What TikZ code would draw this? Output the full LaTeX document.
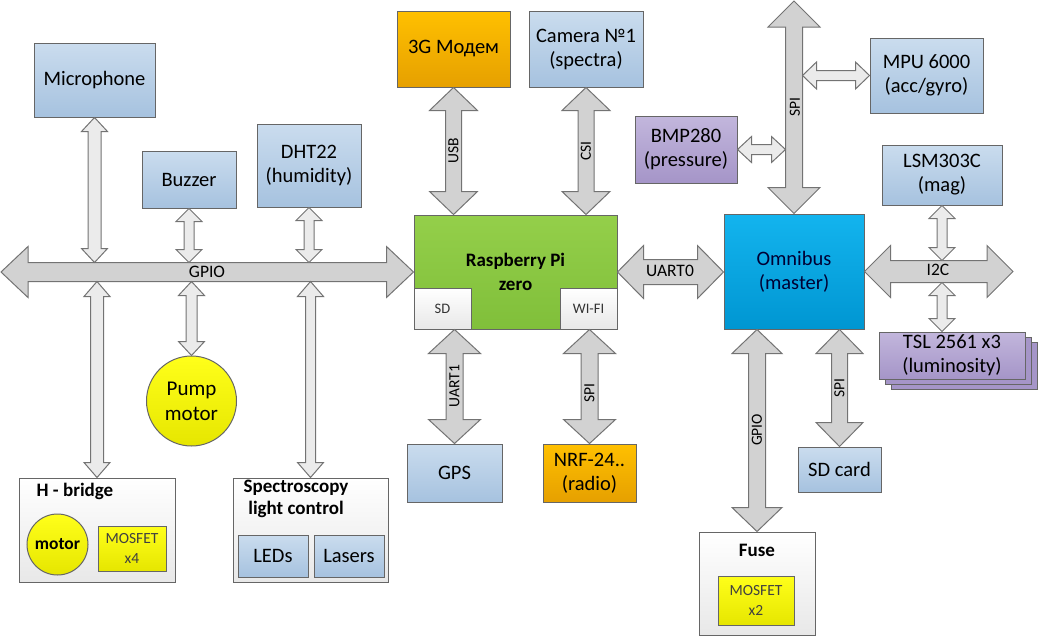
\documentclass[tikz,border=0pt]{standalone}
\usepackage{fontspec}
\setmainfont{Carlito}
\usetikzlibrary{calc,shadows}
\definecolor{blueT}{HTML}{CADCEE}
\definecolor{blueB}{HTML}{A6C2DF}
\definecolor{orangeT}{HTML}{FFC000}
\definecolor{orangeB}{HTML}{E6A000}
\definecolor{purpleT}{HTML}{C2B6DC}
\definecolor{purpleB}{HTML}{A595C8}
\definecolor{greenT}{HTML}{94CF4A}
\definecolor{greenB}{HTML}{80BF3A}
\definecolor{omniT}{HTML}{13B4EE}
\definecolor{omniB}{HTML}{0096D2}
\definecolor{yellowT}{HTML}{FFFF1A}
\definecolor{yellowB}{HTML}{E6E600}
\definecolor{greyB}{HTML}{E8E8E8}
\definecolor{busfill}{HTML}{D2D2D2}
\definecolor{thinfill}{HTML}{EBEBEB}
\newcommand{\vbus}[6][bigbus]{%
  \draw[#1] let \p1=(#2), \p2=(#3) in
    (\x1,\y1) -- ({\x1+#5pt},{\y1-#6pt}) -- ({\x1+#4pt},{\y1-#6pt})
    -- ({\x1+#4pt},{\y2+#6pt}) -- ({\x1+#5pt},{\y2+#6pt}) -- (\x1,\y2)
    -- ({\x1-#5pt},{\y2+#6pt}) -- ({\x1-#4pt},{\y2+#6pt})
    -- ({\x1-#4pt},{\y1-#6pt}) -- ({\x1-#5pt},{\y1-#6pt}) -- cycle;}
\newcommand{\hbus}[6][bigbus]{%
  \draw[#1] let \p1=(#2), \p2=(#3) in
    (\x1,\y1) -- ({\x1+#6pt},{\y1+#5pt}) -- ({\x1+#6pt},{\y1+#4pt})
    -- ({\x2-#6pt},{\y1+#4pt}) -- ({\x2-#6pt},{\y1+#5pt}) -- (\x2,\y1)
    -- ({\x2-#6pt},{\y1-#5pt}) -- ({\x2-#6pt},{\y1-#4pt})
    -- ({\x1+#6pt},{\y1-#4pt}) -- ({\x1+#6pt},{\y1-#5pt}) -- cycle;}
\tikzset{
  dims/.style 2 args={minimum width=#1, minimum height=#2},
  box/.style={draw=black!60, align=center, inner sep=1pt, font=\fontsize{20.5}{24}\selectfont},
  bluebox/.style={box, top color=blueT, bottom color=blueB},
  orangebox/.style={box, top color=orangeT, bottom color=orangeB},
  purplebox/.style={box, top color=purpleT, bottom color=purpleB},
  yellowbox/.style={box, top color=yellowT, bottom color=yellowB, text=black!75, font=\fontsize{15.5}{20}\selectfont},
  greybox/.style={draw=black!60, top color=white, bottom color=greyB},
  subbox/.style={greybox, inner sep=1pt, text=black!80, font=\fontsize{14.5}{16}\selectfont},
  motor/.style={circle, draw=black!60, top color=yellowT, bottom color=yellowB, align=center, inner sep=0pt, font=\fontsize{21}{25}\selectfont},
  heading/.style={align=center, inner sep=1pt, font=\bfseries\fontsize{19}{22.5}\selectfont},
  bigbus/.style={draw=black!55, fill=busfill},
  thinbus/.style={draw=black!55, fill=thinfill},
  buslabel/.style={inner sep=1pt, font=\fontsize{17.5}{19}\selectfont},
  vlabel/.style={inner sep=1pt, rotate=90, font=\fontsize{15.5}{17}\selectfont}
}
\begin{document}
\begin{tikzpicture}[x=1pt, y=-1pt, line width=1pt]
\useasboundingbox (0,0) rectangle (1039,638);
\node[bluebox, dims={121}{74}] (mic) at (94.5,80) {Microphone};
\node[bluebox, dims={94}{57}] (buzzer) at (189,179.5) {Buzzer};
\node[bluebox, dims={104}{83}] (dht) at (309,165.5) {DHT22\\(humidity)};
\node[orangebox, dims={113}{76}] (modem) at (453.5,49) {3G Модем};
\node[bluebox, dims={114}{76}] (camera) at (586,49) {Camera №1\\(spectra)};
\node[purplebox, dims={102}{67}] (bmp) at (686,149.5) {BMP280\\(pressure)};
\node[bluebox, dims={113}{75}] (mpu) at (926.5,75.5) {MPU 6000\\(acc/gyro)};
\node[bluebox, dims={120}{60}] (lsm) at (942,175) {LSM303C\\(mag)};
\node[box, top color=greenT, bottom color=greenB, dims={203}{114}, font=\bfseries\fontsize{19}{24}\selectfont] (rpi) at (515.5,272) {Raspberry Pi\\zero};
\node[subbox, dims={57}{41}, anchor=south west] (rsd) at (rpi.south west) {SD};
\node[subbox, dims={57}{41}, anchor=south east] (rwifi) at (rpi.south east) {WI-FI};
\node[box, top color=omniT, bottom color=omniB, text=black!80!blue, dims={140}{115}] (omni) at (794,271.5) {Omnibus\\(master)};
\node[purplebox, dims={146}{47},
  copy shadow={shadow xshift=12pt, shadow yshift=-10pt, fill=purpleB, draw=black!60},
  copy shadow={shadow xshift=6pt, shadow yshift=-5pt, fill=purpleB, draw=black!60}] (tsl) at (952,355.5) {TSL 2561 x3\\(luminosity)};
\node[bluebox, dims={95}{58}] (gps) at (454.5,473) {GPS};
\node[orangebox, dims={93}{58}] (nrf) at (589.5,473) {NRF-24..\\(radio)};
\node[bluebox, dims={83}{45}] (sdcard) at (839.5,469.5) {SD card};
\node[greybox, dims={116}{103}] (fuse) at (757,583.5) {};
\node[heading] (fuset) at (757,550) {Fuse};
\node[yellowbox, dims={76}{49}] (fmos) at (756,600.5) {MOSFET\\x2};
\node[greybox, dims={156}{104}] (hbridge) at (97,530) {};
\node[heading] (hbridget) at (75,491) {H - bridge};
\node[motor, minimum size=61, font=\bfseries\fontsize{17.5}{20}\selectfont] (hmotor) at (57.5,544.5) {motor};
\node[yellowbox, dims={68}{45}] (hmos) at (132,548.5) {MOSFET\\x4};
\node[greybox, dims={155}{104}] (spec) at (310.5,530) {};
\node[heading] (spect) at (296,499) {Spectroscopy\\light control};
\node[bluebox, dims={70}{42}] (leds) at (273,556) {LEDs};
\node[bluebox, dims={70}{42}] (lasers) at (349,556) {Lasers};
\node[motor, minimum size=90] (pump) at (191.5,401) {Pump\\motor};
\coordinate (gpl) at (1,272);
\coordinate (gtop) at (0,262.5);
\coordinate (gbot) at (0,281.5);
\coordinate (spitop) at (794,1);
\coordinate (spil) at (785.5,0);
\coordinate (spir) at (802.5,0);
\coordinate (i2cr) at (1013,271.5);
\coordinate (i2ct) at (0,260.5);
\coordinate (i2cb) at (0,282.5);
\hbus{gpl}{rpi.west}{9.5}{25.5}{27}
\vbus[thinbus]{mic.south}{mic.south |- gtop}{6.5}{13}{14}
\vbus[thinbus]{buzzer.south}{buzzer.south |- gtop}{5}{13}{13}
\vbus[thinbus]{dht.south}{dht.south |- gtop}{5}{13}{13}
\vbus[thinbus]{hbridge.north |- gbot}{hbridge.north}{6.5}{13}{15}
\vbus[thinbus]{pump.north |- gbot}{pump.north}{5.5}{13}{14}
\vbus[thinbus]{spec.north |- gbot}{spec.north}{5}{13}{15}
\vbus{modem.south}{modem.south |- rpi.north}{8}{24}{23}
\vbus{camera.south}{camera.south |- rpi.north}{8}{24}{23}
\hbus{rpi.east}{omni.west}{12.5}{26.5}{26}
\vbus{spitop}{omni.north}{8.5}{26}{26}
\hbus[thinbus]{spir |- mpu.west}{mpu.west}{5}{13.5}{14}
\hbus[thinbus]{bmp.east}{spil |- bmp.east}{5}{13}{14}
\hbus{omni.east}{i2cr}{11}{26}{26}
\vbus[thinbus]{lsm.south}{lsm.south |- i2ct}{5}{13}{13}
\vbus[thinbus]{lsm.south |- i2cb}{lsm.south |- tsl.north}{5}{13}{13}
\vbus{gps.north |- rpi.south}{gps.north}{8.5}{26}{24}
\vbus{nrf.north |- rpi.south}{nrf.north}{8.5}{26}{24}
\vbus{fuse.north |- omni.south}{fuse.north}{8.5}{25}{24}
\vbus{sdcard.north |- omni.south}{sdcard.north}{8}{23.5}{24}
\node[buslabel] (gpiol) at (207,272) {GPIO};
\node[vlabel] (usbl) at (453.5,151) {USB};
\node[vlabel] (csil) at (586,151) {CSI};
\node[buslabel] (uart0l) at (670,271) {UART0};
\node[vlabel] (spiomnil) at (795,107) {SPI};
\node[buslabel] (i2cl) at (938,270) {I2C};
\node[vlabel] (uart1l) at (454.5,386) {UART1};
\node[vlabel] (spinrfl) at (589.5,393) {SPI};
\node[vlabel] (gpiofl) at (757,430) {GPIO};
\node[vlabel] (spisdl) at (839.5,388) {SPI};
\end{tikzpicture}
\end{document}
